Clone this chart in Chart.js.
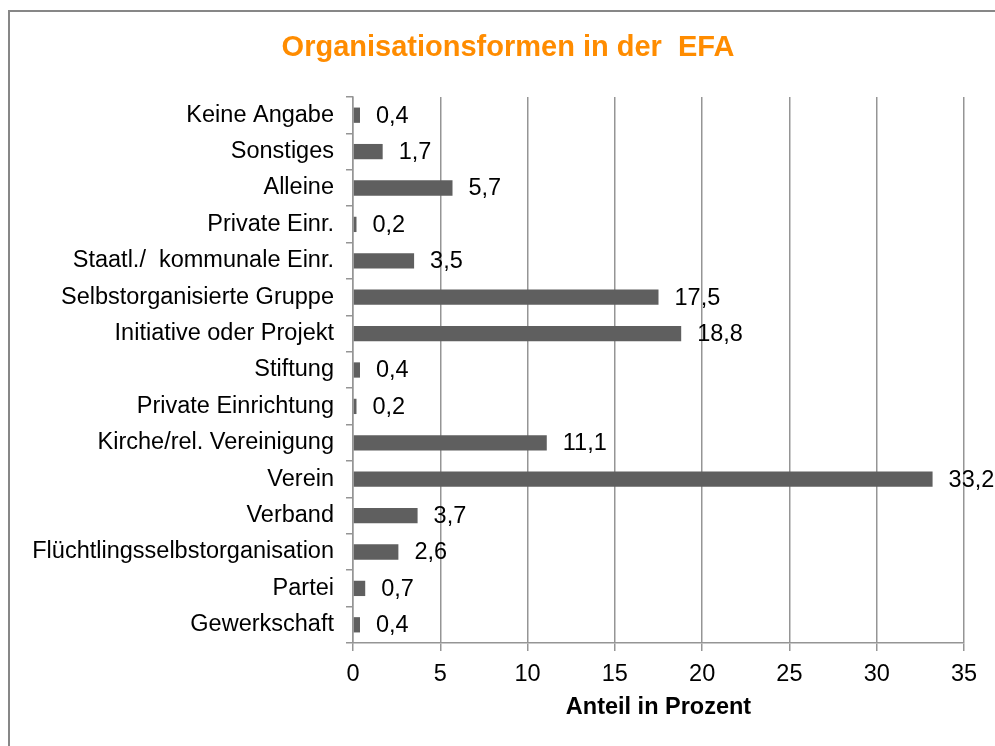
<!DOCTYPE html>
<html>
<head>
<meta charset="utf-8">
<script src="https://cdn.jsdelivr.net/npm/chart.js@4.4.1/dist/chart.umd.min.js"></script>
<style>
  html, body { margin: 0; padding: 0; background: #ffffff; }
  #wrap { width: 995px; height: 746px; position: relative; }
</style>
</head>
<body>
<div id="wrap"><canvas id="c" width="995" height="746"></canvas></div>
<script>
const chartTitle = 'Organisationsformen in der  EFA';
const axisTitle = 'Anteil in Prozent';
const categories = [
  'Keine Angabe',
  'Sonstiges',
  'Alleine',
  'Private Einr.',
  'Staatl./  kommunale Einr.',
  'Selbstorganisierte Gruppe',
  'Initiative oder Projekt',
  'Stiftung',
  'Private Einrichtung',
  'Kirche/rel. Vereinigung',
  'Verein',
  'Verband',
  'Flüchtlingsselbstorganisation',
  'Partei',
  'Gewerkschaft'
];
const values = [0.4, 1.7, 5.7, 0.2, 3.5, 17.5, 18.8, 0.4, 0.2, 11.1, 33.2, 3.7, 2.6, 0.7, 0.4];
const xTicks = [0, 5, 10, 15, 20, 25, 30, 35];

const FONT = 'Liberation Sans, Arial, sans-serif';
const GRID = '#959595';

const frame = {
  id: 'frame',
  beforeDraw(chart) {
    const ctx = chart.ctx;
    ctx.save();
    ctx.fillStyle = '#ffffff';
    ctx.fillRect(0, 0, chart.width, chart.height);
    ctx.strokeStyle = '#878787';
    ctx.lineWidth = 2;
    ctx.strokeRect(9, 11, 1100, 900);
    ctx.restore();
  },
  afterDraw(chart) {
    const ctx = chart.ctx;
    ctx.save();
    ctx.font = 'bold 29px ' + FONT;
    ctx.fillStyle = '#ff8c00';
    ctx.textAlign = 'center';
    ctx.textBaseline = 'middle';
    ctx.fillText(chartTitle, 508, 48);
    ctx.restore();
  }
};

const valueLabels = {
  id: 'valueLabels',
  afterDatasetsDraw(chart) {
    const ctx = chart.ctx;
    const meta = chart.getDatasetMeta(0);
    ctx.save();
    ctx.font = '23.5px ' + FONT;
    ctx.fillStyle = '#000000';
    ctx.textAlign = 'left';
    ctx.textBaseline = 'middle';
    meta.data.forEach((bar, i) => {
      const txt = values[i].toFixed(1).replace('.', ',');
      ctx.fillText(txt, bar.x + 16, bar.y + 1);
    });
    ctx.restore();
  }
};

new Chart(document.getElementById('c'), {
  type: 'bar',
  data: {
    labels: categories,
    datasets: [{
      data: values,
      backgroundColor: '#5f5f5f',
      borderWidth: 0,
      categoryPercentage: 1,
      barPercentage: 0.42
    }]
  },
  options: {
    indexAxis: 'y',
    responsive: false,
    animation: false,
    devicePixelRatio: 1,
    layout: { padding: { left: 10, right: 31, top: 97, bottom: 0 } },
    plugins: {
      legend: { display: false },
      tooltip: { enabled: false },
      title: { display: false }
    },
    scales: {
      x: {
        type: 'linear',
        min: 0,
        max: 35,
        afterBuildTicks(scale) { scale.ticks = xTicks.map(v => ({ value: v })); },
        afterFit(scale) { scale.height = 103; },
        ticks: {
          color: '#000000',
          font: { family: FONT, size: 23.5 },
          padding: 9,
          callback: v => String(v)
        },
        grid: { color: GRID, lineWidth: 1.5, tickLength: 8, drawTicks: true },
        border: { color: GRID, width: 1.5 },
        title: {
          display: true,
          text: axisTitle,
          color: '#000000',
          font: { family: FONT, size: 23.5, weight: 'bold', lineHeight: 1.2 },
          padding: { top: 0, bottom: 24 }
        }
      },
      y: {
        afterFit(scale) { scale.width = 343; },
        ticks: {
          color: '#000000',
          font: { family: FONT, size: 23.5 },
          padding: 12,
          autoSkip: false
        },
        grid: { color: GRID, lineWidth: 1.5, tickLength: 7, drawOnChartArea: false, drawTicks: true, offset: true },
        border: { color: GRID, width: 1.5 }
      }
    }
  },
  plugins: [frame, valueLabels]
});
</script>
</body>
</html>
